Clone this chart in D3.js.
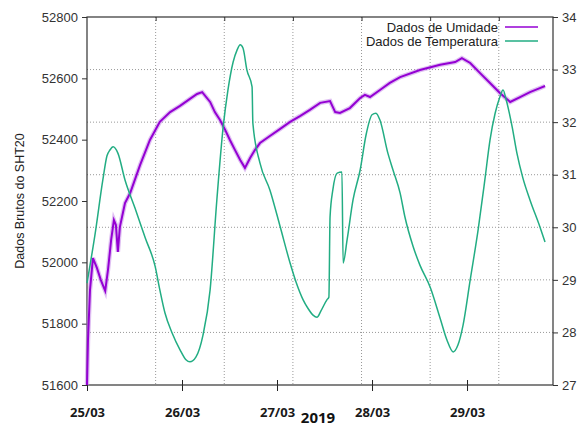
<!DOCTYPE html>
<html>
<head>
<meta charset="utf-8">
<script src="https://cdn.jsdelivr.net/npm/d3@7"></script>
<style>
	body { margin: 0; background: #fff; }
	svg { display: block; font-family: "Liberation Sans", Arial, sans-serif; }
</style>
</head>
<body>
<svg id="chart"></svg>
<script>
'use strict';

// horas desde 25/03 00:00
var umidHoras = [0, 0.25, 0.76, 1.5, 2.5, 3.5, 4.6, 5.3, 6.1, 6.8, 7.3, 7.8, 8.3, 9.6, 10.9,
	13.4, 15.9, 18.4, 21.0, 23.5, 26.0, 27.8, 29.1, 31.1, 32.3, 33.6, 34.9, 36.1, 37.4, 38.7,
	39.9, 41.2, 42.4, 43.7, 46.2, 48.8, 51.3, 53.8, 56.3, 58.9, 61.4, 62.7, 63.9, 66.4, 69.0,
	70.2, 71.5, 74.0, 76.5, 79.1, 84.1, 89.2, 93.0, 94.7, 96.8, 99.3, 101.8, 104.3, 106.9,
	109.4, 111.9, 114.4, 115.7];
var umidValores = [51600, 51747, 51910, 52014, 51982, 51942, 51907, 51975, 52073, 52138, 52122,
	52034, 52115, 52193, 52226, 52317, 52399, 52458, 52490, 52510, 52533, 52549, 52555, 52523,
	52490, 52464, 52432, 52399, 52366, 52334, 52308, 52340, 52366, 52389, 52412, 52435, 52458,
	52477, 52497, 52520, 52526, 52490, 52487, 52503, 52536, 52546, 52539, 52562, 52585, 52604,
	52627, 52644, 52653, 52666, 52650, 52617, 52585, 52552, 52523, 52539, 52555, 52568, 52575];

var tempHoras = [0, 2.0, 4.0, 5.05, 5.8, 6.6, 7.8, 9.6, 12.1, 14.7, 17.2, 18.4, 19.7, 21.5,
	23.5, 25.0, 26.0, 27.5, 29.3, 31.1, 32.8, 34.4, 35.6, 36.9, 37.9, 38.7, 39.4, 40.4, 41.7,
	41.9, 43.7, 46.2, 48.8, 51.3, 52.8, 54.6, 55.8, 57.1, 58.1, 59.1, 60.6, 61.1, 61.4, 62.1,
	63.2, 64.4, 64.7, 65.7, 67.2, 69.0, 70.5, 72.0, 73.0, 74.0, 76.0, 77.3, 79.1, 80.3, 82.4,
	84.1, 86.7, 89.2, 90.9, 92.5, 93.7, 95.0, 96.8, 98.8, 100.5, 101.8, 103.1, 104.3, 105.1,
	105.9, 107.4, 108.6, 110.1, 111.9, 114.4, 115.7];
var tempValores = [28.94, 29.85, 30.90, 31.36, 31.47, 31.53, 31.41, 30.90, 30.37, 29.80, 29.26,
	28.81, 28.37, 27.99, 27.67, 27.48, 27.44, 27.53, 27.95, 28.81, 30.52, 31.91, 32.61, 33.14,
	33.37, 33.47, 33.41, 32.99, 32.67, 31.98, 31.22, 30.71, 30.01, 29.32, 28.96, 28.62, 28.46,
	28.33, 28.29, 28.41, 28.62, 28.67, 30.20, 30.71, 31.03, 31.05, 29.32, 29.76, 30.52, 31.09,
	31.76, 32.14, 32.17, 32.04, 31.41, 31.09, 30.65, 30.20, 29.63, 29.28, 28.86, 28.27, 27.86,
	27.63, 27.76, 28.14, 29.00, 29.95, 30.90, 31.66, 32.17, 32.48, 32.61, 32.42, 31.91, 31.41,
	30.94, 30.52, 30.01, 29.72];

var diasLabels = ['25/03', '26/03', '27/03', '28/03', '29/03'];
var ticksEsq = [51600, 51800, 52000, 52200, 52400, 52600, 52800];
var ticksDir = [27, 28, 29, 30, 31, 32, 33, 34];
var legendas = ['Dados de Umidade', 'Dados de Temperatura'];

var w = 580,
	h = 426,
	m = { top: 17, right: 27, bottom: 41, left: 87 },
	inicio = new Date(2019, 2, 25),
	fim = new Date(2019, 2, 29, 21, 43),
	corUmid = '#9400d3',
	corTemp = '#22ad83',
	svg, x, x2, yEsq, yDir, plot, leg;

function hora(hh) {
	return new Date(inicio.getTime() + hh * 3600000);
}

svg = d3.select('#chart')
	.attr('width', w)
	.attr('height', h);

x = d3.scaleTime().domain([inicio, fim]).range([m.left, w - m.right]);
// eixo x2 do gnuplot (grade vertical)
x2 = d3.scaleLinear().domain([0, 6.79]).range([m.left, w - m.right]);
yEsq = d3.scaleLinear().domain([51600, 52800]).range([h - m.bottom, m.top]);
yDir = d3.scaleLinear().domain([27, 34]).range([h - m.bottom, m.top]);

// grade
svg.append('g')
	.selectAll('line')
	.data([28, 29, 30, 31, 32, 33])
	.enter()
	.append('line')
	.attr('x1', m.left).attr('x2', w - m.right)
	.attr('y1', function (d) { return yDir(d); })
	.attr('y2', function (d) { return yDir(d); })
	.attr('stroke', '#999').attr('stroke-width', 1)
	.attr('stroke-dasharray', '1,2');

svg.append('g')
	.selectAll('line')
	.data([1, 2, 3, 4, 5, 6])
	.enter()
	.append('line')
	.attr('x1', function (d) { return x2(d); })
	.attr('x2', function (d) { return x2(d); })
	.attr('y1', m.top).attr('y2', h - m.bottom)
	.attr('stroke', '#999').attr('stroke-width', 1)
	.attr('stroke-dasharray', '1,2');

// eixos
svg.append('g')
	.attr('transform', 'translate(' + m.left + ',0)')
	.call(d3.axisLeft(yEsq).tickValues(ticksEsq).tickSize(5).tickPadding(4).tickFormat(d3.format('d')))
	.call(function (g) {
		g.select('.domain').remove();
		g.selectAll('line').attr('stroke', '#333');
		g.selectAll('text').attr('fill', '#333').attr('font-size', 13)
			.attr('font-family', '"Liberation Sans", Arial, sans-serif');
	});

svg.append('g')
	.attr('transform', 'translate(' + (w - m.right) + ',0)')
	.call(d3.axisRight(yDir).tickValues(ticksDir).tickSize(5).tickPadding(4).tickFormat(d3.format('d')))
	.call(function (g) {
		g.select('.domain').remove();
		g.selectAll('line').attr('stroke', '#333');
		g.selectAll('text').attr('fill', '#333').attr('font-size', 13)
			.attr('font-family', '"Liberation Sans", Arial, sans-serif');
	});

svg.append('g')
	.attr('transform', 'translate(0,' + (h - m.bottom + 6) + ')')
	.call(d3.axisBottom(x)
		.tickValues(diasLabels.map(function (d, i) { return hora(24 * i); }))
		.tickSize(-11).tickPadding(17)
		.tickFormat(function (d, i) { return diasLabels[i]; }))
	.call(function (g) {
		g.select('.domain').remove();
		g.selectAll('line').attr('stroke', '#222');
		g.selectAll('text').attr('fill', '#1a1a1a').attr('font-size', 13)
			.attr('font-weight', 'bold')
			.attr('font-family', '"Open Sans", "Noto Sans", sans-serif');
	});

svg.append('g')
	.attr('transform', 'translate(0,' + m.top + ')')
	.call(d3.axisBottom(x2).tickValues([1, 2, 3, 4, 5, 6]).tickSize(4).tickFormat(''))
	.call(function (g) {
		g.select('.domain').remove();
		g.selectAll('line').attr('stroke', '#333');
	});

// borda
svg.append('rect')
	.attr('x', m.left).attr('y', m.top)
	.attr('width', w - m.left - m.right)
	.attr('height', h - m.top - m.bottom)
	.attr('fill', 'none')
	.attr('stroke', '#333').attr('stroke-width', 1.2);

// curvas
plot = svg.append('g');

plot.append('path')
	.datum(umidHoras)
	.attr('fill', 'none')
	.attr('stroke', '#c58be8').attr('stroke-width', 4.5).attr('stroke-opacity', 0.55)
	.attr('d', d3.line()
		.x(function (d) { return x(hora(d)); })
		.y(function (d, i) { return yEsq(umidValores[i]); }));

plot.append('path')
	.datum(umidHoras)
	.attr('fill', 'none')
	.attr('stroke', corUmid).attr('stroke-width', 2)
	.attr('d', d3.line()
		.x(function (d) { return x(hora(d)); })
		.y(function (d, i) { return yEsq(umidValores[i]); }));

plot.append('path')
	.datum(tempHoras)
	.attr('fill', 'none')
	.attr('stroke', corTemp).attr('stroke-width', 1.5)
	.attr('stroke-linejoin', 'round')
	.attr('d', d3.line()
		.curve(d3.curveMonotoneX)
		.x(function (d) { return x(hora(d)); })
		.y(function (d, i) { return yDir(tempValores[i]); }));

// legenda
leg = svg.append('g')
	.selectAll('g')
	.data(legendas)
	.enter()
	.append('g')
	.attr('transform', function (d, i) { return 'translate(0,' + (27 + i * 14) + ')'; });

leg.append('text')
	.attr('x', 498).attr('dy', '0.35em')
	.attr('text-anchor', 'end')
	.attr('font-size', 13).attr('fill', '#222')
	.text(function (d) { return d; });

leg.append('line')
	.attr('x1', 505).attr('x2', 538)
	.attr('stroke', function (d, i) { return i === 0 ? corUmid : corTemp; })
	.attr('stroke-width', 1.5);

// titulos
svg.append('text')
	.attr('transform', 'translate(24,' + ((m.top + h - m.bottom) / 2) + ') rotate(-90)')
	.attr('text-anchor', 'middle')
	.attr('font-size', 12.5).attr('fill', '#222')
	.text('Dados Brutos do SHT20');

svg.append('text')
	.attr('x', 318).attr('y', 423)
	.attr('text-anchor', 'middle')
	.attr('font-size', 15).attr('font-weight', 'bold').attr('fill', '#111')
	.attr('font-family', '"Open Sans", "Noto Sans", sans-serif')
	.text('2019');
</script>
</body>
</html>
